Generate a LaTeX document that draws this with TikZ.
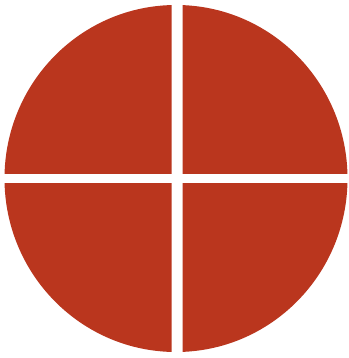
\documentclass[tikz,border=0pt]{standalone}
\definecolor{disc}{RGB}{186,54,30}
\tikzset{quad/.style={fill=disc,draw=none}}
\begin{document}
\begin{tikzpicture}[x=1pt,y=-1pt]
\useasboundingbox (0,0) rectangle (348,358);
\fill[white] (0,0) rectangle (348,358);
% top-left
\begin{scope}
\clip (0,0) rectangle (171.5,173);
\fill[quad] (176,178.5) ellipse [x radius=171.5, y radius=173.5];
\end{scope}
% top-right
\begin{scope}
\clip (182.5,0) rectangle (348,173);
\fill[quad] (176,178.5) ellipse [x radius=171.5, y radius=173.5];
\end{scope}
% bottom-left
\begin{scope}
\clip (0,183.5) rectangle (171.5,358);
\fill[quad] (176,178.5) ellipse [x radius=171.5, y radius=173.5];
\end{scope}
% bottom-right
\begin{scope}
\clip (182.5,183.5) rectangle (348,358);
\fill[quad] (176,178.5) ellipse [x radius=171.5, y radius=173.5];
\end{scope}
\end{tikzpicture}
\end{document}
